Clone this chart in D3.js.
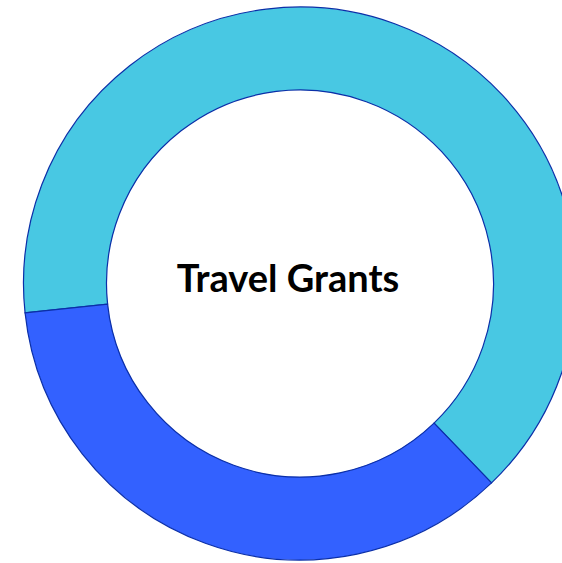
<!DOCTYPE html>
<html><head><meta charset="utf-8">
<script src="https://cdn.jsdelivr.net/npm/d3@7"></script>
<style>html,body{margin:0;padding:0;background:#fff;overflow:hidden}</style>
</head><body>
<svg id="chart" width="562" height="563"></svg>
<script>
const categories = ["Awarded", "Pending"];
const values = [20, 11];
const colors = ["#48C8E3", "#3361FF"];
const title = "Travel Grants";

const svg = d3.select("#chart");
const cx = 300, cy = 283.5, rOuter = 276.5, rInner = 193.5;
const start = -96.1 * Math.PI / 180;
const pie = d3.pie().sort(null).startAngle(start).endAngle(start + 2 * Math.PI);
const arc = d3.arc().innerRadius(rInner).outerRadius(rOuter);
const g = svg.append("g").attr("transform", `translate(${cx},${cy})`);
g.selectAll("path").data(pie(values)).join("path")
  .attr("d", arc)
  .attr("fill", (d, i) => colors[i])
  .attr("stroke", "#0B2FA8")
  .attr("stroke-width", 1.2);
const t = svg.append("text")
  .attr("x", 288).attr("y", 292)
  .attr("text-anchor", "middle")
  .attr("font-family", "Lato, 'Open Sans', sans-serif")
  .attr("font-weight", "bold")
  .attr("font-size", 38)
  .attr("fill", "#000")
  .text(title);
</script>
</body></html>
